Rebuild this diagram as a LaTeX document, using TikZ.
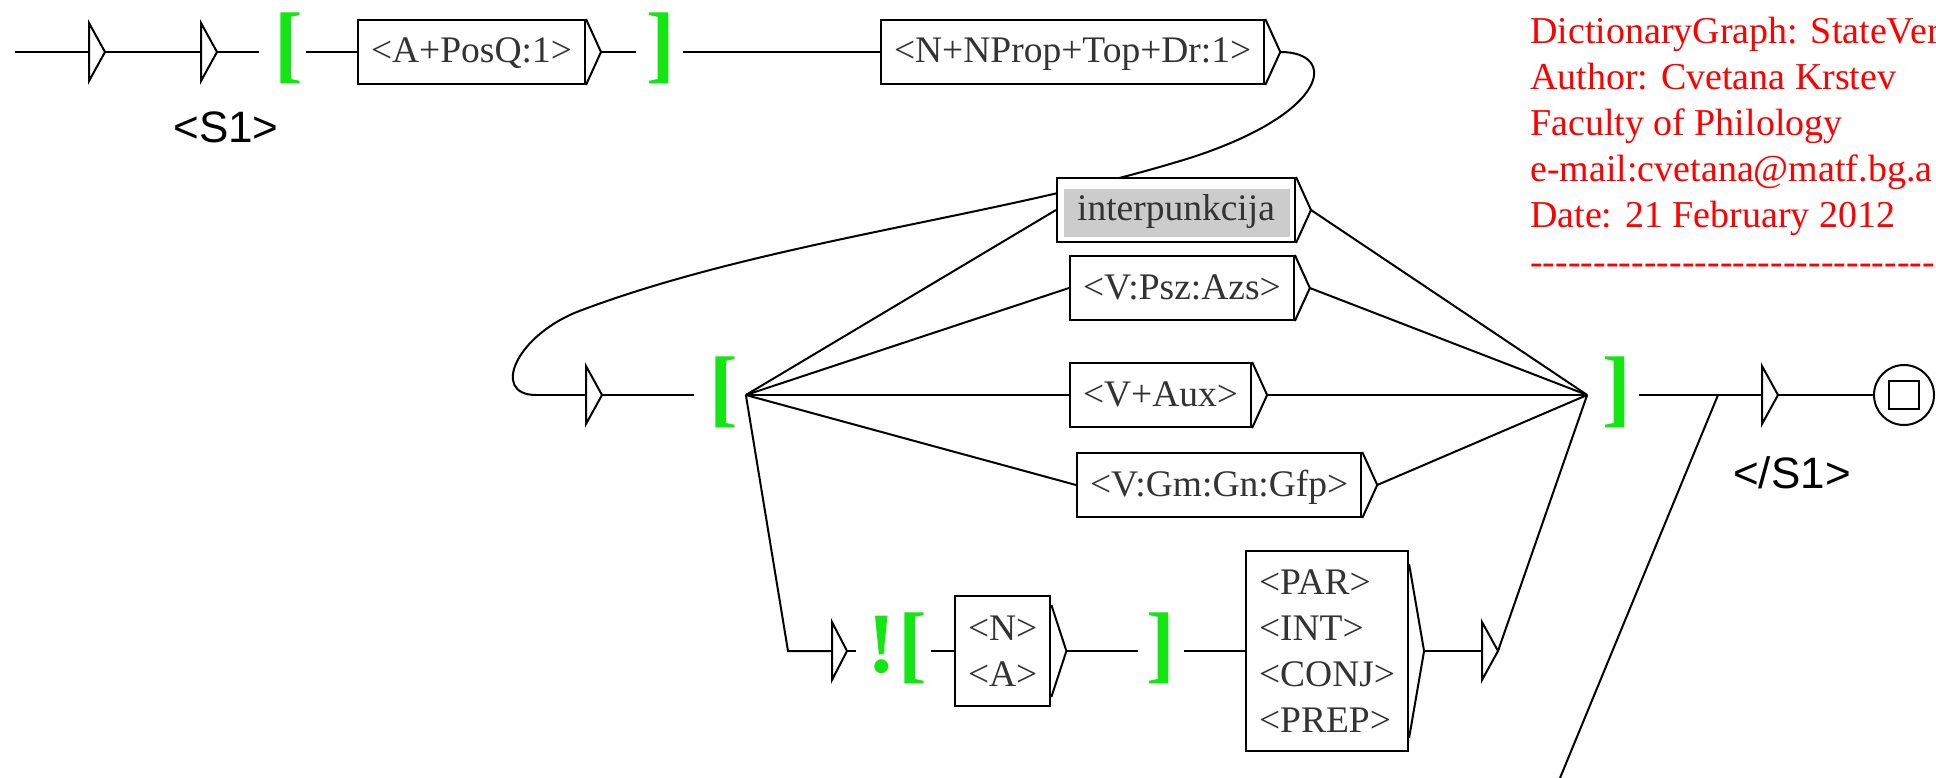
\documentclass[tikz,border=0pt]{standalone}
\usepackage{fontspec}
\newfontfamily\gserif{Liberation Serif}
\newfontfamily\gsans{Liberation Sans}
\usetikzlibrary{calc}
\pgfdeclarelayer{paper}
\pgfdeclarelayer{wires}
\pgfsetlayers{paper,wires,main}
\definecolor{ctxgreen}{RGB}{20,230,20}
\definecolor{hlgray}{RGB}{204,204,204}
\newcommand\hy{\mbox{-}}
% output arrow ">" on the right side of a box: node, tip name, inset
\newcommand\outtip[3]{%
  \coordinate (#2) at ([xshift=15pt]#1.east);
  \draw[wire,line join=miter] ([yshift=-#3]#1.north east) -- (#2) -- ([yshift=#3]#1.south east);}
% empty transition triangle: base coordinate, tip coordinate
\newcommand\etri[2]{%
  \draw[wire,fill=white,line join=miter] ([yshift=29pt]#1) -- ([yshift=-29pt]#1) -- (#2) -- cycle;}
\begin{document}
\begin{tikzpicture}[x=1pt,y=-1pt,
  wire/.style={line width=2pt},
  lbl/.style={draw,line width=2pt,fill=white,anchor=west,inner xsep=13pt,inner ysep=0pt,
    minimum height=64pt,text height=26pt,text depth=4pt,text=black!80,
    font=\gserif\fontsize{37.5}{46}\selectfont},
  mlbl/.style={draw,line width=2pt,fill=white,anchor=west,inner xsep=13pt,inner ysep=0pt,
    align=left,text=black!80,font=\gserif\fontsize{37.5}{46}\selectfont},
  ctx/.style={inner sep=0pt,text height=66pt,text depth=24pt,text=ctxgreen,
    font=\gserif\bfseries\fontsize{86}{86}\selectfont},
  info/.style={anchor=base west,inner sep=0pt,text=red,font=\gserif\fontsize{38}{46}\selectfont},
  tag/.style={anchor=base,inner sep=0pt,font=\gsans\fontsize{44}{44}\selectfont},
]
\useasboundingbox (0,0) rectangle (1936,778);
\clip (0,0) rectangle (1936,778);
\begin{pgfonlayer}{paper}
\fill[white] (0,0) rectangle (1936,778);
\end{pgfonlayer}

% ---- points of the empty transitions
\coordinate (s0) at (15,52);
\coordinate (t1) at (89,52);   \coordinate (t1o) at (105,52);
\coordinate (t2) at (201,52);  \coordinate (t2o) at (217,52);
\coordinate (t3in) at (536,395);
\coordinate (t3) at (586,395); \coordinate (t3o) at (602,395);
\coordinate (t4in) at (1718,395);
\coordinate (t4) at (1762,395); \coordinate (t4o) at (1778,395);
\coordinate (t5in) at (788,651);
\coordinate (t5) at (832,651); \coordinate (t5o) at (847,651);
\coordinate (t6) at (1482,651); \coordinate (t6o) at (1498,651);
\coordinate (away) at (1560,778);

% ---- top row
\node[ctx] (o1) at (282.5,52) {\hspace*{15pt}[\hspace*{2.7pt}};
\node[lbl] (b1) at (357,52) {<A+PosQ:1>};
\outtip{b1}{b1t}{0pt}
\node[ctx] (c1) at (659.5,52) {\hspace*{10.4pt}]\hspace*{7.3pt}};
\node[lbl] (b2) at (880,52) {<N+NProp+Top+Dr:1>};
\outtip{b2}{b2t}{0pt}
\node[tag] (lab1) at (226,143) {<S1>};

% ---- middle row
\node[ctx] (o2) at (720,395) {\hspace*{15pt}[\hspace*{7.7pt}};
\node[lbl,minimum width=238pt,
  path picture={\fill[hlgray] ([xshift=7pt,yshift=-11pt]path picture bounding box.north west)
    rectangle ([xshift=-5pt,yshift=5pt]path picture bounding box.south east);}]
  (ip) at (1056,210) {interpunkcija};
\outtip{ip}{ipt}{0pt}
\node[lbl] (psz) at (1069,288) {<V:Psz:Azs>};
\outtip{psz}{pszt}{0pt}
\node[lbl] (aux) at (1069,395) {<V+Aux>};
\outtip{aux}{auxt}{0pt}
\node[lbl] (gfp) at (1076,485) {<V:Gm:Gn:Gfp>};
\outtip{gfp}{gfpt}{0pt}
\node[ctx] (c2) at (1613,395) {\hspace*{14.9pt}]\hspace*{7.8pt}};
\node[circle,draw,line width=2pt,minimum size=60pt,inner sep=0pt] (fin) at (1904,395) {};
\node[draw,line width=2pt,minimum width=30pt,minimum height=28pt,inner sep=0pt] (finsq) at (fin) {};
\node[tag] (lab2) at (1792,488) {</S1>};

% ---- bottom row
\node[ctx] (o3) at (893.5,651) {\hspace*{10.5pt}!\hspace*{3pt}[\hspace*{2.9pt}};
\node[mlbl,minimum height=110pt] (nb) at (954,651) {<N>\\<A>};
\outtip{nb}{nbt}{10pt}
\node[ctx] (c3) at (1161,651) {\hspace*{8.4pt}]\hspace*{8.3pt}};
\node[mlbl,minimum height=200pt] (par) at (1245,651) {<PAR>\\<INT>\\<CONJ>\\<PREP>};
\outtip{par}{part}{14pt}

% ---- triangles
\etri{t1}{t1o}
\etri{t2}{t2o}
\etri{t3}{t3o}
\etri{t4}{t4o}
\etri{t5}{t5o}
\etri{t6}{t6o}

% ---- transitions
\begin{pgfonlayer}{wires}
\draw[wire] (s0) -- (t1);
\draw[wire] (t1o) -- (t2);
\draw[wire] (t2o) -- (o1.west);
\draw[wire] (o1.east) -- (b1.west);
\draw[wire] (b1t) -- (c1.west);
\draw[wire] (c1.east) -- (b2.west);
\draw[wire] (b2t) .. controls (1338,52) and (1330,112) .. (1193,157)
  .. controls (1002,217) and (769,240) .. (582,310)
  .. controls (516,334) and (490,395) .. (t3in);
\draw[wire] (t3in) -- (t3);
\draw[wire] (t3o) -- (o2.west);
\draw[wire] (o2.east) -- (ip.west);
\draw[wire] (o2.east) -- (psz.west);
\draw[wire] (o2.east) -- (aux.west);
\draw[wire] (o2.east) -- (gfp.west);
\draw[wire] (o2.east) -- (t5in) -- (t5);
\draw[wire] (ipt) -- (c2.west);
\draw[wire] (pszt) -- (c2.west);
\draw[wire] (auxt) -- (c2.west);
\draw[wire] (gfpt) -- (c2.west);
\draw[wire] (t6o) -- (c2.west);
\draw[wire] (c2.east) -- (t4);
\draw[wire] (away) -- (t4in);
\draw[wire] (t4o) -- (fin.west);
\draw[wire] (t5o) -- (o3.west);
\draw[wire] (o3.east) -- (nb.west);
\draw[wire] (nbt) -- (c3.west);
\draw[wire] (c3.east) -- (par.west);
\draw[wire] (part) -- (t6);
\end{pgfonlayer}

% ---- header comment
\node[info] (h1) at (1530,44) {DictionaryGraph: StateVer};
\node[info] (h2) at (1530,90) {Author: Cvetana Krstev};
\node[info] (h3) at (1530,136) {Faculty of Philology};
\node[info] (h4) at (1530,182) {e-mail:cvetana@matf.bg.a};
\node[info] (h5) at (1530,228) {Date: 21 February 2012};
\node[info] (h6) at (1530,274) {\hy\hy\hy\hy\hy\hy\hy\hy\hy\hy\hy\hy\hy\hy\hy\hy\hy\hy\hy\hy\hy\hy\hy\hy\hy\hy\hy\hy\hy\hy\hy\hy\hy};
\end{tikzpicture}
\end{document}
